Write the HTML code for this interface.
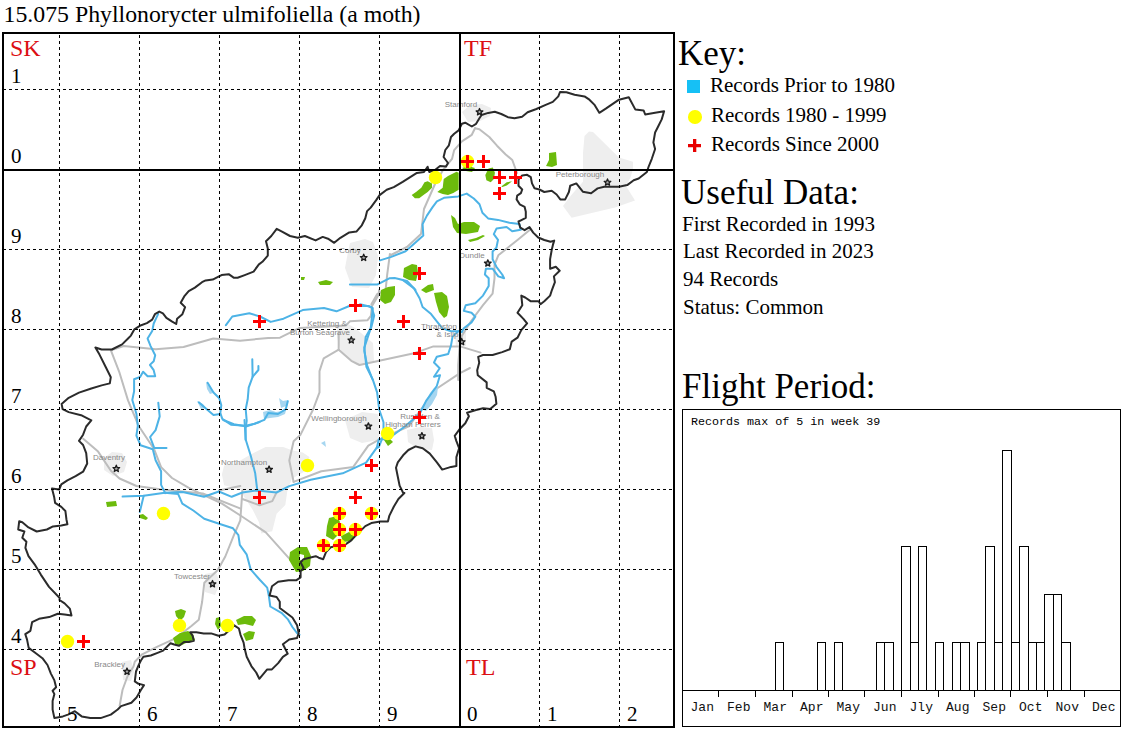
<!DOCTYPE html>
<html><head><meta charset="utf-8">
<style>
html,body{margin:0;padding:0;background:#fff;}
body{width:1125px;height:731px;position:relative;overflow:hidden;font-family:"Liberation Serif",serif;color:#000;}
.t{position:absolute;white-space:nowrap;line-height:1;}
svg{position:absolute;left:0;top:0;}
</style></head><body>
<div class="t" id="title" style="left:3.5px;top:2.5px;font-size:23.8px;">15.075 Phyllonorycter ulmifoliella (a moth)</div>

<svg id="map" width="1125" height="731" viewBox="0 0 1125 731">
  <!--MAP--><g fill="#eeeeee" stroke="none"><path d="M462 112 L470 105 L482 104 L491 108 L490 116 L480 121 L468 122Z"/><path d="M589 131.5 L593 132 L610 148.7 L619 157.4 L633 161.7 L633 169 L630.5 177.5 L626 186 L635 200.5 L615 207.6 L571.6 217.7 L563 206 L571.6 194.7 L583 181.8 L583 153 L584.5 136Z"/><path d="M350 243 L365 239 L373 242 L378 256 L376 275 L369 288 L352 287 L345 268 L348 252Z"/><path d="M337 326 L348 324 L355 328 L373 343 L374 361 L357 365 L341 352 L337 337Z"/><path d="M345 420 L362 412 L378 414 L380 428 L378 440 L362 443 L350 438Z"/><path d="M407 430 L420 427 L432 428 L434 440 L432 450 L418 449 L408 442Z"/><path d="M224.1 465.6 L235 463.5 L250.3 454.7 L265.6 447 L283.2 447 L291.9 450.3 L302.8 452.5 L309.4 456.9 L307.2 470 L291.9 478.8 L287.5 489.7 L285.3 505 L276.6 513.8 L272.2 531.3 L261.3 533.5 L259.1 522.5 L252.5 509.4 L243.8 496.3 L241.6 489.7 L224.1 485.3 L221.9 474.4Z"/><path d="M104 458 L112 452 L122 453 L127 462 L124 472 L113 476 L104 470Z"/><path d="M205 574 L216 572 L220 583 L215 595 L205 592Z"/><path d="M122 662 L131 660 L134 672 L131 681 L123 680Z"/><path d="M455 334 L466 332 L466 346 L456 347Z"/></g>
<g fill="none" stroke="#bdbdbd" stroke-width="2" stroke-linejoin="round" stroke-linecap="round"><path d="M475 128.2 L471.8 134.8 L461.9 141.3 L454.2 150.1 L452 158.9 L443 170 L435 184 L424 209 L421 234 L407 247 L391 255 L389.9 254 L387.1 275.3 L385.6 290 L377.1 294.2 L371.4 304.2"/><path d="M475 128.2 L479.4 129.3 L489.3 137 L497 145.7 L505.7 154.5 L512.3 160 L517 173"/><path d="M530 229.8 L517.5 240 L498.3 255.3 L494.5 264.9 L494.5 278.3 L492.6 293.7 L483 305.2 L471.5 320.5 L461.9 335.8 L459.6 346.9 L458.2 365.3 L458.2 380"/><path d="M110.9 350.3 L123.7 346 L155.7 349.2 L183.5 347 L213.3 338.5 L240 340.7 L268.3 338 L280 337.7 L299.7 327.9 L345.7 325.6 L350 321.3 L367.6 320.2 L370.9 315.8 L372 306 L378.5 295 L379.2 290"/><path d="M338.7 349.7 L351.3 360.8 L359.5 365 L412.9 353.6 L433.4 346.4 L460 346.4 L480.6 352.6"/><path d="M338.7 349.7 L323.7 358.3 L319.5 371.1 L319.5 392.4 L313.1 409.5 L300.3 435.1 L293.6 441.3 L289.3 460.5 L293.6 481.9"/><path d="M338.7 349.7 L338.7 332.7"/><path d="M110.9 350.3 L119.5 372.7 L128 400.4 L138.7 426 L154.2 449.3 L161.1 467.1 L172 478 L188.4 487.6 L202.1 494.4 L222 503.7 L241.2 516 L265.8 532.4 L289.1 558.4 L298.6 569.4"/><path d="M293.6 481.9 L321.3 471.2 L353.3 466.9 L368.3 445.6 L380 439.2 L408.8 426.4 L435.4 389.5 L460 373.1 L470 368"/><path d="M242.4 490.4 L240.3 520.3 L233.9 535.2 L225.3 556.5 L217.6 570.3 L204.3 582.8 L202.1 602 L198.8 619.8 L191.4 626 L175.4 638.3 L156.9 646.9 L142.2 654.3 L134.8 661.7 L133.5 666.6 L127.4 676.5 L122.5 690 L119.6 706"/><path d="M83.2 438.8 L98.1 451.6 L110.9 470.8 L119.5 478.5 L136.5 486 L160 489.2 L202.7 493.5 L240 508.4"/><path d="M242.4 499 L259.5 505.3 L272.3 501.1 L276.5 492.5"/><path d="M218.9 490.4 L240.3 486.1"/></g>
<g fill="#a6d6f0"><path d="M263 412 L270 410 L276 412 L282 411 L286 408 L288 403 L285 414 L278 417 L270 418 L264 419Z"/><path d="M279 398 L283 401 L288 400 L286 406 L281 408Z"/><path d="M197 401 L203 404 L206 408 L201 409Z"/><path d="M206 382 L210 388 L213 393 L210 394 L207 389Z"/><path d="M421 409 L426 401 L430 393 L434 388 L438 387 L437 395 L432 404 L426 411Z"/><path d="M321 443 L325 441 L326 447Z"/></g>
<g fill="none" stroke="#4db3e6" stroke-width="2" stroke-linejoin="round" stroke-linecap="round"><path d="M225.9 325.1 L232.3 316.5 L249.3 313.3 L260 316.5 L270.7 321.9 L283.5 318.7 L302.7 310.1 L324 308 L336.5 311.3 L349.3 306 L368.5 306 L372.8 308.1 L370.7 328.4 L364.3 347.6 L366.4 366.8 L372.8 379.6 L377.1 392.4 L379.2 409.5 L383.5 422.3 L383.5 435.1 L378.9 447 L376.8 447.7"/><path d="M122.6 496.6 L143.7 495.7 L164.8 492.8 L182.7 492 L204 496.8 L218.9 491.5 L231.7 496.8 L242.4 492.5 L257.3 490.4 L276.5 492.5 L289.3 486.1 L310.7 479.7 L342.7 473.3 L366.1 462.7 L376.8 447.7 L378.9 439.2 L387.7 439.3 L404.8 426.5 L419.7 413.7 L426.1 400.9 L436.8 386 L440 375.3 L434 376.7 L439.7 368.2 L434 362.5 L436.8 356.8 L448.2 354 L451 345.4 L452.5 336.9 L458.2 331.2 L459.6 331.2 L461.9 332 L463.8 328.2 L471.5 322.4 L475.3 316.7 L471.5 312.8 L463.8 310.9 L465.7 305.2 L475.3 303.2 L483 295.6 L488.7 286 L488.7 278.3 L484.9 274.5 L485.9 268.7 L492.6 268.7 L498.3 276.4 L504.1 278.3 L502.2 274.5 L496.4 266.8 L492.6 259.2 L492.6 251.5 L496.4 247.7 L498 239.8 L493.8 234.1 L496.6 228.4 L506.6 227 L512.2 231.3 L520.8 229.8 L519.4 224.1 L509.4 222.7 L498 219.9 L488.1 218.4 L482.4 212.8 L479.5 204.2 L473.8 198.5 L466.7 193.6 L458.2 196.4 L444 197.8 L436.9 201.4 L432.6 207.1 L426.9 215.6 L422.6 224.1 L423.3 235.5 L415.5 242.6 L405.6 251.2 L391.3 256.9 L380 260.4"/><path d="M402.7 280 L414.1 288.5 L419.7 298.5 L422.6 307 L431.1 314.1 L436.8 321.3 L442.5 328.4 L451 331.2 L458.2 331.2"/><path d="M360 304.2 L371.4 307 L374.2 315.6 L371.4 326.9 L365.7 336.9 L364.3 351.1 L367.1 365.3 L372.8 380"/><path d="M349.9 284.4 L377.6 284.4 L389.3 278.3 L394.7 278 L407 281 L415.5 290"/><path d="M244.5 420 L245.6 439.2 L250.9 456.3 L255.2 473.3 L257.3 490.4"/><path d="M223.2 420 L233.9 424.3 L246.7 426.4 L259.5 422.1"/><path d="M158.2 313.8 L153.7 323.5 L152.2 331.1 L147.6 338.6 L150.6 346.1 L155.2 355.2 L153.7 361.2 L149.9 364.9 L153.7 370.2 L155.2 376.2 L147.6 376.2 L143.1 371.7 L140.1 377 L134.1 379.2 L134.1 391.3 L132.3 400 L136.4 413.7 L137.8 426 L136.4 435.6 L140.5 445.2 L152.8 449.3 L155.6 460.2 L161.1 471.2 L161.1 484.9 L165.2 493.1"/><path d="M158.3 402.7 L159.7 416.4 L155.6 430.1 L150.1 437 L154.2 447.9 L166.5 447.9"/><path d="M207.6 382.7 L213.5 392.5 L219.3 398.3 L221.3 405.2 L220.3 413 L222.3 418.9 L231 424.7 L245.7 425.7 L254.5 423.8 L264.3 419.9 L268.2 413 L278 414 L285.8 409.1 L287.8 401.3"/><path d="M220.3 414 L213.5 415 L207.6 410.1 L198.8 402.3"/><path d="M252.3 359.3 L252.6 376.8 L248.7 387.6 L247.7 399.3 L245.7 409.1 L246.7 420.8 L245.7 427.7 L245.7 440"/><path d="M258.4 366 L258.4 370 L252.6 376.8"/><path d="M164.8 492.8 L178.2 494.1 L182.3 503.7 L193.3 510.5 L204.2 518.7 L220.6 524.2 L233 528.3 L238.4 535.2 L239.8 544.8 L246.6 554.3 L250.7 569.4 L260 580 L267.2 587.6 L268.8 595.5 L270.3 606.5 L281.4 612.8 L287.7 619.1 L292.4 627 L297.1 633.2 L299.5 634.8"/><path d="M143.7 495.7 L139.8 512"/></g>
<g fill="#6cbb0c" stroke="none" fill-rule="evenodd"><path d="M549 153 L556 152 L557 165 L552 167 L546 166 L549 160Z"/><path d="M485.3 174.9 L488.5 168.5 L492.8 167.4 L494.9 172.7 L493.9 179.1 L490.7 182.3 L486.4 180.2Z"/><path d="M501.3 186.6 L506.7 182.3 L512 181.3 L506.7 185.5 L502.4 187.1Z"/><path d="M462 168 L468 166 L475 168 L472 172 L466 171Z"/><path d="M437.3 191.9 L442.7 187.7 L443.7 179.1 L448 175.9 L456.5 171.7 L458.7 172.7 L458.7 189.8 L453.3 193 L448 195.1 L442.7 194.1Z"/><path d="M411.7 195.1 L416 191.9 L421.3 187.7 L424.5 182.3 L427.7 181.3 L432 183.4 L432 187.7 L427.7 191.9 L423.5 195.1 L419.2 198.3 L414.9 198.3Z"/><path d="M451 215 L455 218 L458 224 L464 222 L474 222 L480 226 L478 232 L466 234 L457 233 L453 227Z"/><path d="M468 240 L476 238 L483 235 L485 236 L478 240 L470 242Z"/><path d="M404 268 L412 264 L417 265 L418 273 L416 281 L409 280 L403 277Z"/><path d="M381 290 L388 287 L395 286 L395 295 L391 302 L385 304 L380 300Z"/><path d="M421 290 L428 285 L433 284 L434 290 L426 293Z"/><path d="M434 293 L442 292 L447 296 L449 307 L447 316 L444 318 L439 312 L436 302Z"/><path d="M318 282 L326 280 L333 282 L330 285 L320 285Z"/><path d="M301 277 L305 277 L304 280 L301 280Z"/><path d="M384 440 L389 438 L393 442 L388 446Z"/><path d="M329 518 L337 516 L340 522 L339 534 L333 540 L326 536 L327 526Z"/><path d="M341 536 L349 532 L356 535 L352 541 L343 542Z"/><path d="M290 552 L298 547 L307 547 L311 556 L310 566 L303 571 L296 572 L289 560Z M300 554 L304 555 L304 561 L299 560Z"/><path d="M175 611 L181 609 L186 611 L184 617 L180 621 L176 616Z"/><path d="M173 638 L180 633 L188 631 L193 634 L195 640 L188 642 L180 646 L175 644Z"/><path d="M216 618 L220 617 L221 626 L218 630 L215 624Z"/><path d="M236 620 L244 616 L252 616 L256 620 L253 626 L245 624 L238 625Z"/><path d="M243 634 L249 631 L255 632 L253 639 L246 641Z"/><path d="M106 502 L116 501 L117 506 L107 507Z"/><path d="M139 515 L143 514 L148 518 L146 520 L140 518Z"/></g>
<path d="M83.1 471.7 L87.2 463.5 L86.2 453.2 L83.1 445 L79 440.9 L83.1 434.7 L86.2 426.5 L91.3 420.3 L81.1 415.2 L68.7 412.1 L62.6 409.1 L61.6 403.9 L68.7 397.8 L79 392.6 L91.3 388.5 L101.6 385.4 L109.8 383.4 L110.8 377.2 L105.7 367 L99.5 354.6 L95.4 347.5 L101.6 349.5 L111.9 349.5 L122.1 344.4 L128.3 338.2 L130.9 335.6 L134.4 329.3 L139.8 325.8 L146.9 323.1 L152.2 319.6 L154.9 314.2 L159.3 311.6 L162.9 313.3 L166.4 317.8 L171.8 321.3 L176.2 324 L177.1 318.7 L182.4 314.2 L185.1 307.1 L180.7 302.7 L184.2 296.4 L188.7 291.1 L194.9 287.6 L202 282.2 L205.6 280.4 L212.7 279.6 L218 276.9 L221.6 275.1 L228.7 274.2 L234 277.8 L237.6 277.8 L244.7 275.1 L253.6 271.6 L258.9 264.4 L262.4 261.8 L267.8 255.6 L267.8 248.4 L266 241.3 L271.3 236 L276.7 228.9 L282 231.6 L290 236 L297.8 237.8 L304.9 236 L315.6 240.4 L322.7 236.9 L328 238.7 L334.2 242.8 L340.4 237.8 L349.3 232.4 L356.4 231.6 L361.8 225.3 L365.3 218.2 L367.1 211.1 L370.7 207.6 L376 200.4 L379.6 195.1 L386.7 189.8 L393.8 187.1 L402.7 181.8 L409.8 177.3 L416.9 172.9 L424 172 L427.6 166.7 L429.3 172 L434.7 170.2 L440 166 L446 166.5 L448 163 L443.6 157 L445.3 150 L448.9 145.3 L451 137 L454.2 133.7 L458.6 130.4 L461.9 123.8 L465.2 122.7 L471.8 126.5 L476.1 123.8 L479.4 118.3 L481.6 115 L488.2 112.9 L494.8 111.8 L501.3 114 L507.9 117.2 L514.5 118.3 L522.1 116.7 L527.6 112.3 L536.4 109 L545.1 105.2 L552.8 101.9 L558.3 96.4 L560 92 L566.4 92.3 L574.6 94.8 L584.5 96.4 L589.4 99.7 L594.3 104.6 L599.3 112.8 L605.8 108.7 L619 99.7 L628.8 97.2 L635.4 109.6 L643.6 110.4 L645.2 114.5 L655.1 112.8 L664.1 111.2 L661.7 119.4 L658.4 126 L655.1 132.5 L653.4 142.4 L655.1 149 L651.8 158.8 L648.5 167 L646.9 172 L638.7 178.5 L633.7 180.2 L627.2 185.1 L619 186.7 L604.2 186.7 L597.6 188.4 L591.1 193.3 L582.8 191.7 L576.3 183.4 L570.2 185.8 L568.9 192 L565.2 199.4 L560.3 199.4 L556.6 194.5 L551.7 190.8 L544.3 192 L539.4 189.5 L534.5 188.3 L532 183.4 L530.8 177.2 L527.1 174.8 L522.2 175.4 L518.5 179.7 L518.5 185.8 L522.2 189.5 L520.9 193.2 L517.2 195.7 L516.6 199.4 L519.7 204.3 L524.6 206.8 L525.8 211.7 L525.8 217.8 L520.9 220.3 L518.5 221.5 L520.3 227.7 L524.6 230.2 L529.5 227.1 L533.2 232.6 L538.2 237.5 L544.3 240 L550.5 241.8 L554.2 240.6 L552.9 244.9 L551.7 250 L550.1 259.2 L550.1 268.7 L555.8 266.8 L559.7 270.7 L553.9 276.4 L554.9 282.2 L552 289.8 L550.1 295.6 L544.3 301.3 L540.5 304.2 L538.6 301.3 L530.9 301.3 L525.2 297.5 L521.3 295.6 L522.3 305.2 L517.5 312.8 L523.2 318.6 L527.1 323.4 L521.3 330.1 L517.5 337.7 L511.7 341.6 L509.8 349.2 L502.2 352.1 L492.6 355 L483 355 L478.2 356.9 L479.2 362.7 L477.2 370.3 L477.8 375.3 L486.7 382.4 L486.7 387.8 L493.8 391.3 L495.6 396.7 L496.4 403.8 L490.2 409.1 L483.1 408.2 L476 410 L467.1 412.7 L468.9 416.2 L465.3 423.3 L460 428.7 L454.7 435.8 L456.4 441.1 L459.1 448.2 L456.4 457.1 L456.4 466 L451.1 466.9 L442.2 469.6 L436.9 462.4 L429.8 453.6 L422.7 448.2 L415.6 446.4 L408.4 450 L403.1 455.3 L397.8 462.4 L396 467.8 L397.8 476.7 L399.6 485.6 L403.1 492.7 L404.4 493 L398.4 499 L393.9 506.5 L389.4 515.6 L387.9 521.6 L380.4 521.6 L371.3 523.1 L365.3 526.1 L360.8 530.6 L354.8 536.6 L350.3 541.2 L345.8 544.2 L338.2 545.7 L330.7 547.2 L326.2 551.7 L323.2 559.2 L318.7 557.7 L315.7 556.2 L309.6 557.7 L303.6 559.2 L300.6 562.2 L303.6 568.2 L300.6 571.2 L300.6 577.3 L296.1 580.3 L288.6 580.3 L278.1 581.8 L272 586.3 L269.6 595.5 L276.6 597 L279.8 601.7 L279.8 608 L286.1 612.8 L292.4 617.5 L297.1 625.3 L298.7 633.2 L297.1 637.9 L289.2 639.5 L282.9 644.2 L286.1 650.5 L287.7 653.7 L282.9 656.8 L278.2 663.1 L271.9 669.4 L267.2 669.4 L259.3 678.8 L256.2 672.5 L251.5 666.3 L246.7 656.8 L244.4 647.4 L243.6 642.7 L240.5 634.8 L238.9 628.5 L234.2 625.3 L227.9 631.6 L224.6 634.6 L218.5 635.8 L211.1 633.4 L203.7 633.4 L196.3 632.2 L190.2 632.2 L192.6 635.8 L193.8 640.8 L188.9 642 L184 642 L179.1 645.7 L174.2 644.5 L170.5 643.2 L166.8 646.9 L163.1 650.6 L156.9 653.1 L150.8 655.5 L143.4 656.8 L140.9 660.5 L138.5 665.4 L136 671.5 L134.8 681.4 L138.5 683.8 L144 685.1 L140.9 690 L138 695 L136.5 697.5 L131.4 702.7 L121.1 706.1 L117.7 709.5 L110.8 714.6 L100.6 718.1 L90.3 718.1 L81.7 716.4 L74.9 711.2 L68 714.6 L62.9 716.4 L54.4 718.1 L52.6 709.5 L52.6 701 L54.4 694.1 L52.6 690.7 L56.1 687.3 L54.4 680.4 L50.9 673.6 L47.5 665 L42.4 658.2 L35.5 653 L28.7 647.9 L27 639.4 L25.3 634.2 L30.4 630.8 L32.1 622.2 L39 618.8 L49.2 617.1 L57.8 613.7 L64.6 614.5 L71.5 615.4 L69.8 608.6 L64.6 603.4 L59.5 600 L59.7 598 L49 586.9 L40.8 574.6 L34.6 564.3 L28.5 556.1 L25.4 547.9 L26.4 541.8 L22.3 537.7 L24.4 531.5 L18.2 529.5 L19.2 521.3 L22.3 522.3 L28.5 527.4 L36.7 531.5 L46.9 529.5 L53 526.4 L61.3 525.4 L67.4 524.3 L66.4 519.2 L65.4 511 L61.3 506.9 L55.1 502.8 L54.1 496.7 L52 488.5 L59.2 489.5 L61.3 484.4 L67.4 480.3 L75.6 476.2Z" fill="none" stroke="#2b2b2b" stroke-width="2" stroke-linejoin="round"/>
<g font-family="Liberation Sans, sans-serif" font-size="8" fill="#888" text-anchor="middle"><text x="461" y="107">Stamford</text><text x="580" y="177">Peterborough</text><text x="350" y="253">Corby</text><text x="472" y="258">Dundle</text><text x="327" y="326">Kettering &amp;</text><text x="320" y="335">Burton Seagrave</text><text x="439" y="328.5">Thrapston</text><text x="447.5" y="337">&amp; Islip</text><text x="339" y="421">Wellingborough</text><text x="420" y="419">Rushden &amp;</text><text x="413" y="427.4">Higham Ferrers</text><text x="109" y="460">Daventry</text><text x="244" y="464.6">Northampton</text><text x="192" y="578.6">Towcester</text><text x="109.6" y="666.5">Brackley</text></g>
<g fill="#aaa" stroke="#1a1a1a" stroke-width="1.3" stroke-linejoin="round"><path d="M479.50 108.50 L480.43 110.73 L482.83 110.92 L481.00 112.49 L481.56 114.83 L479.50 113.58 L477.44 114.83 L478.00 112.49 L476.17 110.92 L478.57 110.73Z"/><path d="M607.50 178.90 L608.43 181.13 L610.83 181.32 L609.00 182.89 L609.56 185.23 L607.50 183.97 L605.44 185.23 L606.00 182.89 L604.17 181.32 L606.57 181.13Z"/><path d="M363.70 254.20 L364.63 256.43 L367.03 256.62 L365.20 258.19 L365.76 260.53 L363.70 259.27 L361.64 260.53 L362.20 258.19 L360.37 256.62 L362.77 256.43Z"/><path d="M487.80 259.80 L488.73 262.03 L491.13 262.22 L489.30 263.79 L489.86 266.13 L487.80 264.88 L485.74 266.13 L486.30 263.79 L484.47 262.22 L486.87 262.03Z"/><path d="M351.30 336.70 L352.23 338.93 L354.63 339.12 L352.80 340.69 L353.36 343.03 L351.30 341.77 L349.24 343.03 L349.80 340.69 L347.97 339.12 L350.37 338.93Z"/><path d="M461.70 338.40 L462.63 340.63 L465.03 340.82 L463.20 342.39 L463.76 344.73 L461.70 343.47 L459.64 344.73 L460.20 342.39 L458.37 340.82 L460.77 340.63Z"/><path d="M368.40 422.80 L369.33 425.03 L371.73 425.22 L369.90 426.79 L370.46 429.13 L368.40 427.88 L366.34 429.13 L366.90 426.79 L365.07 425.22 L367.47 425.03Z"/><path d="M421.90 432.60 L422.83 434.83 L425.23 435.02 L423.40 436.59 L423.96 438.93 L421.90 437.68 L419.84 438.93 L420.40 436.59 L418.57 435.02 L420.97 434.83Z"/><path d="M116.30 465.20 L117.23 467.43 L119.63 467.62 L117.80 469.19 L118.36 471.53 L116.30 470.27 L114.24 471.53 L114.80 469.19 L112.97 467.62 L115.37 467.43Z"/><path d="M269.10 466.00 L270.03 468.23 L272.43 468.42 L270.60 469.99 L271.16 472.33 L269.10 471.07 L267.04 472.33 L267.60 469.99 L265.77 468.42 L268.17 468.23Z"/><path d="M212.50 580.50 L213.43 582.73 L215.83 582.92 L214.00 584.49 L214.56 586.83 L212.50 585.58 L210.44 586.83 L211.00 584.49 L209.17 582.92 L211.57 582.73Z"/><path d="M127.00 668.00 L127.93 670.23 L130.33 670.42 L128.50 671.99 L129.06 674.33 L127.00 673.08 L124.94 674.33 L125.50 671.99 L123.67 670.42 L126.07 670.23Z"/></g>
<g fill="#ffff00"><circle cx="435.5" cy="177.5" r="6.7"/><circle cx="467.5" cy="161.5" r="6.7"/><circle cx="179.5" cy="625.5" r="6.7"/><circle cx="227.5" cy="625.5" r="6.7"/><circle cx="163.5" cy="513.5" r="6.7"/><circle cx="67.5" cy="641.5" r="6.7"/><circle cx="307.5" cy="465.5" r="6.7"/><circle cx="387.5" cy="433.5" r="6.7"/><circle cx="339.5" cy="513.5" r="6.7"/><circle cx="371.5" cy="513.5" r="6.7"/><circle cx="339.5" cy="529.5" r="6.7"/><circle cx="355.5" cy="529.5" r="6.7"/><circle cx="323.5" cy="545.5" r="6.7"/><circle cx="339.5" cy="545.5" r="6.7"/></g>
<g fill="#ff0000"><path d="M466.0 155.0h3v5h5v3h-5v5h-3v-5h-5v-3h5z"/><path d="M482.0 155.0h3v5h5v3h-5v5h-3v-5h-5v-3h5z"/><path d="M498.0 171.0h3v5h5v3h-5v5h-3v-5h-5v-3h5z"/><path d="M514.0 171.0h3v5h5v3h-5v5h-3v-5h-5v-3h5z"/><path d="M498.0 187.0h3v5h5v3h-5v5h-3v-5h-5v-3h5z"/><path d="M418.0 267.0h3v5h5v3h-5v5h-3v-5h-5v-3h5z"/><path d="M354.0 299.0h3v5h5v3h-5v5h-3v-5h-5v-3h5z"/><path d="M258.0 315.0h3v5h5v3h-5v5h-3v-5h-5v-3h5z"/><path d="M402.0 315.0h3v5h5v3h-5v5h-3v-5h-5v-3h5z"/><path d="M418.0 347.0h3v5h5v3h-5v5h-3v-5h-5v-3h5z"/><path d="M418.0 411.0h3v5h5v3h-5v5h-3v-5h-5v-3h5z"/><path d="M370.0 459.0h3v5h5v3h-5v5h-3v-5h-5v-3h5z"/><path d="M258.0 491.0h3v5h5v3h-5v5h-3v-5h-5v-3h5z"/><path d="M354.0 491.0h3v5h5v3h-5v5h-3v-5h-5v-3h5z"/><path d="M338.0 507.0h3v5h5v3h-5v5h-3v-5h-5v-3h5z"/><path d="M370.0 507.0h3v5h5v3h-5v5h-3v-5h-5v-3h5z"/><path d="M338.0 523.0h3v5h5v3h-5v5h-3v-5h-5v-3h5z"/><path d="M354.0 523.0h3v5h5v3h-5v5h-3v-5h-5v-3h5z"/><path d="M322.0 539.0h3v5h5v3h-5v5h-3v-5h-5v-3h5z"/><path d="M338.0 539.0h3v5h5v3h-5v5h-3v-5h-5v-3h5z"/><path d="M82.0 635.0h3v5h5v3h-5v5h-3v-5h-5v-3h5z"/></g><!--/MAP-->
  <!-- grid dashed -->
  <g stroke="#000" stroke-width="1" stroke-dasharray="3 3" fill="none" shape-rendering="crispEdges">
    <path id="vgrid" d="M59.5 35V726 M139.5 35V726 M219.5 35V726 M299.5 35V726 M379.5 35V726 M539.5 35V726 M619.5 35V726"/>
    <path id="hgrid" d="M3 89.5H674 M3 249.5H674 M3 329.5H674 M3 409.5H674 M3 489.5H674 M3 569.5H674 M3 649.5H674"/>
  </g>
  
  <g stroke="#000" stroke-width="2" fill="none" shape-rendering="crispEdges">
    <path d="M460 33V726 M3 170H674"/>
    <rect x="3" y="33" width="671" height="694"/>
  </g>
</svg>

<!-- grid labels -->
<div class="t" style="left:10px;top:36px;font-size:24px;color:#dc0f14;">SK</div>
<div class="t" style="left:464px;top:36px;font-size:24px;color:#dc0f14;">TF</div>
<div class="t" style="left:10px;top:655px;font-size:24px;color:#dc0f14;">SP</div>
<div class="t" style="left:466px;top:655px;font-size:24px;color:#dc0f14;">TL</div>

<div class="t" style="left:11px;top:66px;font-size:21px;">1</div>
<div class="t" style="left:11px;top:146px;font-size:21px;">0</div>
<div class="t" style="left:11px;top:226px;font-size:21px;">9</div>
<div class="t" style="left:11px;top:306px;font-size:21px;">8</div>
<div class="t" style="left:11px;top:386px;font-size:21px;">7</div>
<div class="t" style="left:11px;top:466px;font-size:21px;">6</div>
<div class="t" style="left:11px;top:546px;font-size:21px;">5</div>
<div class="t" style="left:11px;top:626px;font-size:21px;">4</div>

<div class="t" style="left:67px;top:704px;font-size:21px;">5</div>
<div class="t" style="left:147px;top:704px;font-size:21px;">6</div>
<div class="t" style="left:227px;top:704px;font-size:21px;">7</div>
<div class="t" style="left:307px;top:704px;font-size:21px;">8</div>
<div class="t" style="left:387px;top:704px;font-size:21px;">9</div>
<div class="t" style="left:467px;top:704px;font-size:21px;">0</div>
<div class="t" style="left:547px;top:704px;font-size:21px;">1</div>
<div class="t" style="left:627px;top:704px;font-size:21px;">2</div>

<!-- key -->
<div class="t" style="left:678px;top:36px;font-size:35px;">Key:</div>
<div style="position:absolute;left:687px;top:80px;width:13px;height:13px;background:#16c0f5;"></div>
<div class="t" style="left:710px;top:75px;font-size:21px;">Records Prior to 1980</div>
<div style="position:absolute;left:688px;top:110px;width:13.5px;height:13.5px;border-radius:50%;background:#ffff00;"></div>
<div class="t" style="left:711px;top:105px;font-size:21px;">Records 1980 - 1999</div>
<svg style="left:688px;top:139px;" width="14" height="14"><path d="M5 0h3.3v5H13v3.3H8.3V13H5V8.3H0V5h5z" fill="#e80000"/></svg>
<div class="t" style="left:711px;top:134px;font-size:21px;">Records Since 2000</div>

<div class="t" style="left:681px;top:175px;font-size:35px;">Useful Data:</div>
<div class="t" style="left:682px;top:214px;font-size:21px;">First Recorded in 1993</div>
<div class="t" style="left:683px;top:241px;font-size:21px;">Last Recorded in 2023</div>
<div class="t" style="left:683px;top:269px;font-size:21px;">94 Records</div>
<div class="t" style="left:683px;top:297px;font-size:21px;">Status: Common</div>

<div class="t" style="left:682px;top:369px;font-size:35px;">Flight Period:</div>

<!-- chart -->
<svg id="chart" style="left:0;top:0;" width="1125" height="731">
  <rect x="682.5" y="409.5" width="438" height="317" fill="none" stroke="#000" stroke-width="1"/>
  <path d="M682 690.5H1121" stroke="#000" stroke-width="1"/>
  <g id="ticks" stroke="#000" stroke-width="1"><path d="M718.5 690V697"/><path d="M755.5 690V697"/><path d="M792.5 690V697"/><path d="M828.5 690V697"/><path d="M864.5 690V697"/><path d="M901.5 690V697"/><path d="M938.5 690V697"/><path d="M974.5 690V697"/><path d="M1010.5 690V697"/><path d="M1047.5 690V697"/><path d="M1084.5 690V697"/></g>
  <g id="bars" fill="#fff" stroke="#000" stroke-width="1"><rect x="775.5" y="642.5" width="8" height="48"/><rect x="817.5" y="642.5" width="8" height="48"/><rect x="834.5" y="642.5" width="8" height="48"/><rect x="876.5" y="642.5" width="8" height="48"/><rect x="884.5" y="642.5" width="9" height="48"/><rect x="901.5" y="546.5" width="9" height="144"/><rect x="910.5" y="642.5" width="8" height="48"/><rect x="918.5" y="546.5" width="8" height="144"/><rect x="935.5" y="642.5" width="8" height="48"/><rect x="952.5" y="642.5" width="8" height="48"/><rect x="960.5" y="642.5" width="9" height="48"/><rect x="977.5" y="642.5" width="8" height="48"/><rect x="985.5" y="546.5" width="9" height="144"/><rect x="994.5" y="642.5" width="8" height="48"/><rect x="1002.5" y="450.5" width="9" height="240"/><rect x="1011.5" y="642.5" width="8" height="48"/><rect x="1019.5" y="546.5" width="9" height="144"/><rect x="1028.5" y="642.5" width="8" height="48"/><rect x="1036.5" y="642.5" width="8" height="48"/><rect x="1044.5" y="594.5" width="9" height="96"/><rect x="1053.5" y="594.5" width="8" height="96"/><rect x="1061.5" y="642.5" width="9" height="48"/></g>
</svg>
<div class="t" style="left:691px;top:417px;font-family:'Liberation Mono',monospace;font-size:11.7px;">Records max of 5 in week 39</div>
<div id="months"><div class="t" style="left:684.0px;width:36.5px;text-align:center;top:701px;font-family:'Liberation Mono',monospace;font-size:13px;color:#111;">Jan</div><div class="t" style="left:720.5px;width:36.5px;text-align:center;top:701px;font-family:'Liberation Mono',monospace;font-size:13px;color:#111;">Feb</div><div class="t" style="left:757.0px;width:36.5px;text-align:center;top:701px;font-family:'Liberation Mono',monospace;font-size:13px;color:#111;">Mar</div><div class="t" style="left:793.5px;width:36.5px;text-align:center;top:701px;font-family:'Liberation Mono',monospace;font-size:13px;color:#111;">Apr</div><div class="t" style="left:830.0px;width:36.5px;text-align:center;top:701px;font-family:'Liberation Mono',monospace;font-size:13px;color:#111;">May</div><div class="t" style="left:866.5px;width:36.5px;text-align:center;top:701px;font-family:'Liberation Mono',monospace;font-size:13px;color:#111;">Jun</div><div class="t" style="left:903.0px;width:36.5px;text-align:center;top:701px;font-family:'Liberation Mono',monospace;font-size:13px;color:#111;">Jly</div><div class="t" style="left:939.5px;width:36.5px;text-align:center;top:701px;font-family:'Liberation Mono',monospace;font-size:13px;color:#111;">Aug</div><div class="t" style="left:976.0px;width:36.5px;text-align:center;top:701px;font-family:'Liberation Mono',monospace;font-size:13px;color:#111;">Sep</div><div class="t" style="left:1012.5px;width:36.5px;text-align:center;top:701px;font-family:'Liberation Mono',monospace;font-size:13px;color:#111;">Oct</div><div class="t" style="left:1049.0px;width:36.5px;text-align:center;top:701px;font-family:'Liberation Mono',monospace;font-size:13px;color:#111;">Nov</div><div class="t" style="left:1085.5px;width:36.5px;text-align:center;top:701px;font-family:'Liberation Mono',monospace;font-size:13px;color:#111;">Dec</div></div>
</body></html>
